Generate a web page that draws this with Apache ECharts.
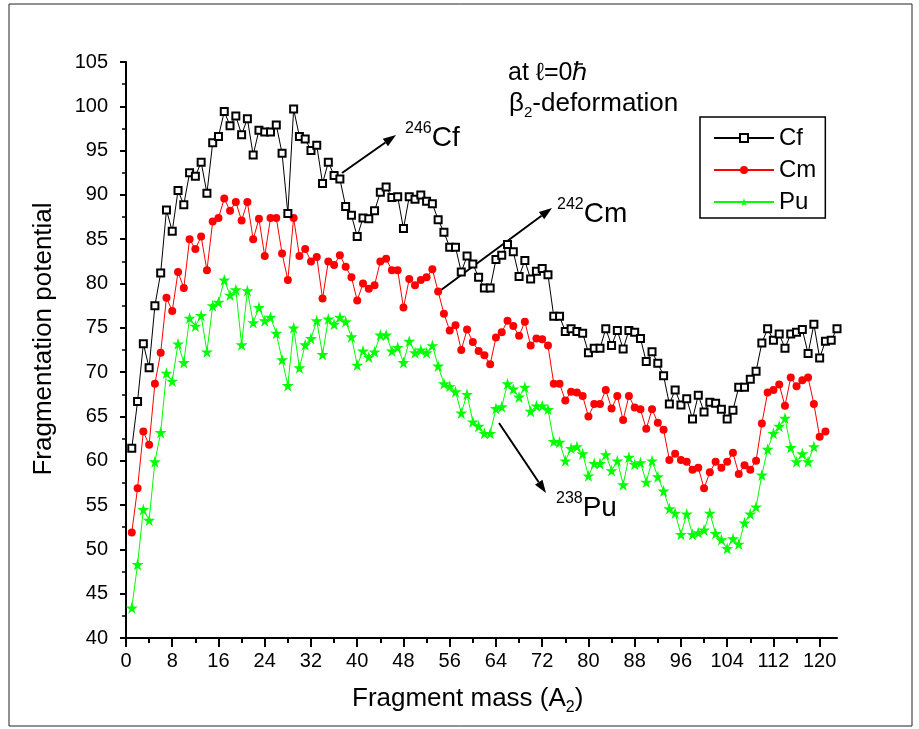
<!DOCTYPE html>
<html>
<head>
<meta charset="utf-8">
<title>Fragmentation potential</title>
<script src="https://cdn.jsdelivr.net/npm/echarts@6/dist/echarts.min.js"></script>
<style>
  html, body { margin: 0; padding: 0; background: #fff; }
  #chart { width: 919px; height: 729px; }
</style>
</head>
<body>
<div id="chart"></div>
<script>
// fragmentation potential vs fragment mass A2 (A2 = 1, 2, 3 ...)
var cf = [61.4, 66.7, 73.2, 70.5, 77.5, 81.2, 88.3, 85.9, 90.5, 88.9,
  92.5, 92.1, 93.7, 90.2, 95.9, 96.6, 99.4, 97.8, 98.9, 96.8,
  98.6, 94.5, 97.3, 97.1, 97.1, 97.9, 94.7, 87.9, 99.7, 96.6,
  96.3, 95.0, 95.6, 91.3, 93.7, 92.2, 91.8, 88.7, 87.7, 85.3,
  87.4, 87.3, 88.2, 90.3, 90.9, 89.7, 89.8, 86.2, 89.8, 89.5,
  90.0, 89.3, 89.0, 87.2, 85.8, 84.1, 84.1, 81.3, 83.1, 82.2,
  80.7, 79.5, 79.5, 82.7, 83.2, 84.4, 83.6, 80.8, 82.6, 80.5,
  81.4, 81.7, 81.0, 76.3, 76.3, 74.6, 74.9, 74.6, 74.4, 72.2,
  72.7, 72.7, 74.9, 73.0, 74.7, 72.6, 74.7, 74.5, 73.8, 71.2,
  72.3, 71.0, 69.6, 66.4, 68.0, 66.3, 67.0, 64.7, 67.4, 65.5,
  66.6, 66.5, 65.8, 64.7, 65.7, 68.3, 68.3, 69.2, 70.1, 73.3,
  74.9, 73.6, 74.3, 72.7, 74.3, 74.5, 74.8, 72.1, 75.4, 71.6,
  73.5, 73.6, 74.9]
var cm = [51.9, 56.9, 63.3, 61.8, 68.7, 72.2, 78.4, 76.9, 81.3, 79.5,
  85.0, 83.9, 85.3, 81.5, 87.0, 87.4, 89.6, 88.2, 89.2, 87.1,
  89.2, 85.0, 87.3, 83.1, 87.4, 87.4, 83.4, 80.4, 87.4, 83.1,
  83.9, 82.5, 83.0, 78.3, 82.5, 82.1, 83.2, 81.9, 80.7, 78.1,
  80.0, 79.4, 79.8, 82.5, 82.8, 81.5, 81.5, 77.3, 80.5, 79.8,
  80.4, 80.7, 81.6, 79.1, 76.6, 74.7, 75.3, 72.5, 74.8, 73.4,
  72.4, 71.9, 70.9, 73.9, 74.5, 75.8, 75.2, 74.1, 75.7, 73.0,
  73.8, 73.7, 73.0, 68.7, 68.7, 66.8, 67.8, 67.7, 67.3, 65.0,
  66.4, 66.4, 68.0, 65.9, 67.3, 64.6, 67.3, 66.0, 65.8, 63.6,
  65.8, 64.3, 63.5, 60.1, 60.8, 60.1, 59.9, 59.0, 59.2, 56.9,
  58.7, 59.9, 59.2, 59.9, 60.9, 58.5, 59.5, 59.0, 60.0, 64.2,
  67.7, 68.0, 68.6, 66.2, 69.4, 68.4, 69.1, 69.4, 66.4, 62.7,
  63.3]
var pu = [43.4, 48.3, 54.5, 53.3, 59.9, 63.2, 69.9, 69.0, 73.2, 71.1,
  76.1, 75.2, 76.4, 72.3, 77.5, 77.9, 80.4, 78.7, 79.3, 73.1,
  79.2, 75.6, 77.3, 75.8, 76.2, 74.4, 71.4, 68.5, 75.0, 70.5,
  73.1, 73.8, 75.8, 72.0, 76.0, 75.4, 76.2, 75.7, 74.0, 70.8,
  72.4, 71.7, 72.3, 74.2, 74.2, 72.4, 72.8, 71.1, 73.5, 72.2,
  72.5, 72.2, 73.0, 70.7, 68.7, 68.4, 67.8, 65.4, 67.5, 64.4,
  63.9, 63.1, 63.1, 65.9, 66.1, 68.7, 68.1, 67.2, 68.3, 65.6,
  66.2, 66.2, 65.8, 62.2, 62.1, 60.0, 61.4, 61.6, 60.8, 58.3,
  59.7, 59.7, 60.7, 58.9, 60.0, 57.3, 60.4, 59.6, 59.8, 57.6,
  60.0, 58.2, 56.6, 54.6, 54.1, 51.7, 54.0, 51.7, 51.9, 52.2,
  54.1, 51.8, 51.1, 50.1, 51.2, 50.6, 53.0, 54.0, 54.8, 58.4,
  61.3, 63.1, 63.9, 64.8, 61.5, 59.9, 60.8, 59.9, 61.6]

var xTicks = [0, 8, 16, 24, 32, 40, 48, 56, 64, 72, 80, 88, 96, 104, 112, 120]
var xMinor = [4, 12, 20, 28, 36, 44, 52, 60, 68, 76, 84, 92, 100, 108, 116]

var FONT = '"Liberation Sans", Arial, sans-serif'
var STAR = 'path://M50,0 L61,35 L98,35 L68,57 L79,91 L50,70 L21,91 L32,57 L2,35 L39,35 Z'

function pairs(arr) {
  return arr.map(function (v, i) { return [i + 1, v] })
}

// text pieces placed one after the other (for super/subscripts)
var mctx = document.createElement('canvas').getContext('2d')
function runText(x, y, parts) {
  var out = []
  parts.forEach(function (p) {
    mctx.font = p.size + 'px ' + FONT
    out.push({
      type: 'text', x: x, y: y + (p.dy || 0), silent: true,
      style: { text: p.t, fontSize: p.size, fontFamily: FONT, fill: '#000', verticalAlign: 'middle' }
    })
    x += mctx.measureText(p.t).width
  })
  return out
}

function arrow(x1, y1, x2, y2) {
  var dx = x2 - x1, dy = y2 - y1
  var len = Math.sqrt(dx * dx + dy * dy)
  var ux = dx / len, uy = dy / len
  var bx = x2 - ux * 13, by = y2 - uy * 13
  return [
    { type: 'line', silent: true, shape: { x1: x1, y1: y1, x2: bx, y2: by }, style: { stroke: '#000', lineWidth: 2 } },
    { type: 'polygon', silent: true, shape: { points: [[x2, y2], [bx - uy * 4.5, by + ux * 4.5], [bx + uy * 4.5, by - ux * 4.5]] }, style: { fill: '#000' } }
  ]
}

var graphics = [
  { type: 'rect', silent: true, z: -1, shape: { x: 9, y: 4, width: 903, height: 722 }, style: { fill: 'transparent', stroke: '#222', lineWidth: 1 } },
  {
    type: 'text', x: 44, y: 339, rotation: Math.PI / 2, silent: true,
    style: { text: 'Fragmentation potential', fontSize: 26, fontFamily: FONT, fill: '#000', align: 'center', verticalAlign: 'middle' }
  }
]
graphics = graphics
  .concat(runText(352, 699, [{ t: 'Fragment mass (A', size: 26 }, { t: '2', size: 16, dy: 9 }, { t: ')', size: 26 }]))
  .concat(runText(508, 73, [{ t: 'at ℓ=0ℏ', size: 25 }]))
  .concat(runText(509, 104, [{ t: 'β', size: 26 }, { t: '2', size: 15, dy: 9 }, { t: '-deformation', size: 26 }]))
  .concat(runText(405, 138, [{ t: '246', size: 16, dy: -9 }, { t: 'Cf', size: 28 }]))
  .concat(runText(557, 214, [{ t: '242', size: 16, dy: -9 }, { t: 'Cm', size: 28 }]))
  .concat(runText(556, 508, [{ t: '238', size: 16, dy: -9 }, { t: 'Pu', size: 28 }]))
  .concat(arrow(342, 173, 396, 135))
  .concat(arrow(437, 293, 552, 208))
  .concat(arrow(499, 423, 546, 493))

var myChart = echarts.init(document.getElementById('chart'))
var option = {
  animation: false,
  backgroundColor: '#fff',
  grid: { left: 126, right: 82, top: 62, bottom: 91 },
  legend: {
    left: 700, top: 117, orient: 'vertical',
    padding: [9, 9, 4, 13], itemGap: 8, itemWidth: 60, itemHeight: 10,
    borderColor: '#000', borderWidth: 1.5, borderRadius: 0,
    textStyle: { fontSize: 24, fontFamily: FONT, color: '#000' },
    data: ['Cf', 'Cm', 'Pu']
  },
  xAxis: [{
    type: 'value', min: 0, max: 123,
    axisLine: { show: true, onZero: false, lineStyle: { color: '#000', width: 2 } },
    axisTick: { show: true, customValues: xTicks, length: 9, lineStyle: { color: '#000', width: 2 } },
    axisLabel: { customValues: xTicks, margin: 13, color: '#000', fontSize: 20, fontFamily: FONT },
    splitLine: { show: false }
  }, {
    type: 'value', min: 0, max: 123, position: 'bottom',
    axisLine: { show: false },
    axisTick: { show: true, customValues: xMinor, length: 5, lineStyle: { color: '#000', width: 2 } },
    axisLabel: { show: false },
    splitLine: { show: false }
  }],
  yAxis: {
    type: 'value', min: 40, max: 105, interval: 5,
    axisLine: { show: true, onZero: false, lineStyle: { color: '#000', width: 2 } },
    axisTick: { show: true, length: 6, lineStyle: { color: '#000', width: 2 } },
    minorTick: { show: true, splitNumber: 2, length: 4, lineStyle: { color: '#000', width: 1.5 } },
    axisLabel: { margin: 18, color: '#000', fontSize: 20, fontFamily: FONT },
    splitLine: { show: false }
  },
  series: [
    {
      name: 'Cf', type: 'line', data: pairs(cf), z: 4,
      symbol: 'emptyRect', symbolSize: 7,
      lineStyle: { color: '#000', width: 1 },
      itemStyle: { color: '#000', borderWidth: 1 }
    },
    {
      name: 'Cm', type: 'line', data: pairs(cm), z: 3,
      symbol: 'circle', symbolSize: 8,
      lineStyle: { color: '#ff0000', width: 1 },
      itemStyle: { color: '#ff0000' }
    },
    {
      name: 'Pu', type: 'line', data: pairs(pu), z: 2,
      symbol: STAR, symbolSize: 12,
      lineStyle: { color: '#00ff00', width: 1 },
      itemStyle: { color: '#00ff00' }
    }
  ],
  graphic: graphics
}
myChart.setOption(option)
</script>
</body>
</html>
